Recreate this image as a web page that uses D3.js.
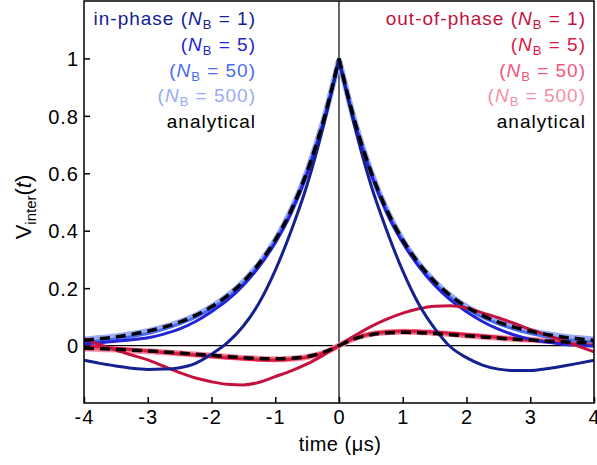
<!DOCTYPE html>
<html><head><meta charset="utf-8">
<script src="https://cdn.jsdelivr.net/npm/d3@7/dist/d3.min.js"></script>
<style>body{margin:0;background:#fff}svg{display:block}text{font-family:"Liberation Sans",Arial,sans-serif}</style>
</head><body><svg id="c" width="597" height="465"></svg>
<script>
const time = [-4,-3.75,-3.5,-3.25,-3,-2.75,-2.5,-2.25,-2,-1.75,-1.5,-1.25,-1,-0.75,-0.5,-0.25,0,0.25,0.5,0.75,1,1.25,1.5,1.75,2,2.25,2.5,2.75,3,3.25,3.5,3.75,4];

const inAnalytical = [0.018,0.024,0.030,0.039,0.050,0.064,0.082,0.105,0.135,0.174,0.223,0.287,0.368,0.472,0.607,0.779,1.000,0.779,0.607,0.472,0.368,0.287,0.223,0.174,0.135,0.105,0.082,0.064,0.050,0.039,0.030,0.024,0.018];
const in500 = [0.021,0.026,0.032,0.040,0.050,0.064,0.082,0.105,0.135,0.173,0.222,0.286,0.367,0.471,0.606,0.778,0.995,0.778,0.606,0.471,0.367,0.286,0.222,0.173,0.135,0.105,0.082,0.064,0.050,0.040,0.032,0.026,0.021];
const in50 = [0.012,0.017,0.023,0.031,0.042,0.057,0.076,0.099,0.129,0.168,0.218,0.283,0.365,0.470,0.605,0.777,0.995,0.777,0.605,0.470,0.365,0.283,0.218,0.168,0.129,0.099,0.076,0.057,0.042,0.031,0.023,0.017,0.013];
const in5 = [0.006,0.010,0.015,0.020,0.027,0.040,0.058,0.084,0.118,0.158,0.210,0.276,0.358,0.462,0.598,0.772,0.990,0.772,0.598,0.462,0.358,0.276,0.210,0.158,0.118,0.084,0.057,0.037,0.022,0.012,0.005,0.001,-0.002];
const in1 = [-0.051,-0.062,-0.071,-0.079,-0.083,-0.082,-0.077,-0.062,-0.030,0.010,0.068,0.150,0.262,0.400,0.560,0.760,1.000,0.760,0.560,0.400,0.260,0.145,0.060,-0.005,-0.042,-0.068,-0.082,-0.087,-0.087,-0.081,-0.072,-0.062,-0.051];

const outAnalytical = [-0.009,-0.011,-0.013,-0.016,-0.019,-0.022,-0.026,-0.030,-0.034,-0.038,-0.042,-0.045,-0.046,-0.044,-0.038,-0.024,0,0.024,0.038,0.044,0.046,0.045,0.042,0.038,0.034,0.030,0.026,0.022,0.019,0.016,0.013,0.011,0.009];
const out500 = [-0.010,-0.012,-0.014,-0.017,-0.020,-0.023,-0.027,-0.031,-0.035,-0.039,-0.043,-0.046,-0.048,-0.046,-0.040,-0.026,0,0.026,0.040,0.046,0.048,0.047,0.044,0.040,0.035,0.031,0.027,0.023,0.020,0.017,0.014,0.012,0.010];
const out50 = [-0.008,-0.010,-0.012,-0.015,-0.018,-0.022,-0.026,-0.030,-0.034,-0.038,-0.042,-0.045,-0.047,-0.045,-0.039,-0.025,0,0.025,0.039,0.045,0.047,0.046,0.043,0.039,0.034,0.030,0.026,0.022,0.018,0.015,0.012,0.010,0.008];
const out5 = [0.000,-0.004,-0.009,-0.014,-0.019,-0.024,-0.029,-0.034,-0.039,-0.043,-0.047,-0.050,-0.051,-0.048,-0.041,-0.026,0,0.026,0.041,0.048,0.051,0.050,0.047,0.043,0.039,0.034,0.029,0.024,0.019,0.014,0.009,0.004,0.000];
const out1 = [0.024,0.003,-0.016,-0.033,-0.050,-0.072,-0.094,-0.113,-0.126,-0.135,-0.137,-0.128,-0.108,-0.088,-0.064,-0.034,0,0.035,0.066,0.092,0.113,0.128,0.137,0.139,0.131,0.114,0.097,0.077,0.056,0.037,0.018,-0.002,-0.022];

const xTicks = [-4,-3,-2,-1,0,1,2,3,4];
const xTickLabels = ["-4","-3","-2","-1","0","1","2","3","4"];
const yTicks = [0,0.2,0.4,0.6,0.8,1];
const yTickLabels = ["0","0.2","0.4","0.6","0.8","1"];
const legendIn = [{pre:"in-phase (",n:"1",c:"#14218f"},{pre:"(",n:"5",c:"#2424d6"},{pre:"(",n:"50",c:"#4a6cf0"},{pre:"(",n:"500",c:"#9aaaf6"}];
const legendOut = [{pre:"out-of-phase (",n:"1",c:"#c4123e"},{pre:"(",n:"5",c:"#e0163f"},{pre:"(",n:"50",c:"#f0567a"},{pre:"(",n:"500",c:"#f78fa6"}];

const L=84,R=594,T=1,B=403;
const svg=d3.select("#c");
const x=d3.scaleLinear().domain([-4,4]).range([L,R]);
const y=d3.scaleLinear().domain([-0.2,1.2]).range([B,T]);

svg.append("clipPath").attr("id","clip").append("rect").attr("x",L).attr("y",T).attr("width",R-L).attr("height",B-T);
const g=svg.append("g").attr("clip-path","url(#clip)");
g.append("line").attr("x1",L).attr("x2",R).attr("y1",y(0)).attr("y2",y(0)).attr("stroke","#000").attr("stroke-width",1.2);
g.append("line").attr("x1",x(0)).attr("x2",x(0)).attr("y1",T).attr("y2",B).attr("stroke","#000").attr("stroke-width",1.2);

const line=d3.line().x(d=>x(d[0])).y(d=>y(d[1])).curve(d3.curveMonotoneX);
function draw(vals,color,w,dash){
  const pts=time.map((t,i)=>[t,vals[i]]);
  const left=pts.filter(p=>p[0]<=0), right=pts.filter(p=>p[0]>=0);
  [left,right].forEach(part=>{
    const p=g.append("path").attr("d",line(part)).attr("fill","none").attr("stroke",color).attr("stroke-width",w).attr("stroke-linecap","butt").attr("stroke-linejoin","round");
    if(dash) p.attr("stroke-dasharray",dash);
  });
}
draw(out500,legendOut[3].c,6);
draw(in500,legendIn[3].c,6);
draw(out50,legendOut[2].c,3);
draw(in50,legendIn[2].c,3);
draw(out5,legendOut[1].c,3);
draw(in5,legendIn[1].c,3);
draw(out1,legendOut[0].c,3);
draw(in1,legendIn[0].c,3);
draw(outAnalytical,"#000",3.5,"10,6");
draw(inAnalytical,"#000",3.5,"10,6");

svg.append("rect").attr("x",L).attr("y",T).attr("width",R-L).attr("height",B-T).attr("fill","none").attr("stroke","#000").attr("stroke-width",1.5);

const xa=svg.append("g").attr("transform",`translate(0,${B})`).call(d3.axisBottom(x).tickValues(xTicks).tickSize(-6).tickPadding(7).tickFormat((d,i)=>xTickLabels[i]));
const ya=svg.append("g").attr("transform",`translate(${L},0)`).call(d3.axisLeft(y).tickValues(yTicks).tickSize(-6).tickPadding(5).tickFormat((d,i)=>yTickLabels[i]));
[xa,ya].forEach(a=>{a.select(".domain").remove();a.selectAll(".tick line").attr("stroke","#000").attr("stroke-width",1.5);a.selectAll("text").attr("font-size",20).attr("letter-spacing",1).attr("fill","#000").attr("font-family","Liberation Sans, Arial, sans-serif");});
xa.selectAll("text").attr("dy","0.71em");
ya.selectAll("text").attr("dy","0.36em");

svg.append("text").attr("x",340).attr("y",451).attr("text-anchor","middle").attr("font-size",20).attr("letter-spacing",0.5).text("time (μs)");
const yl=svg.append("text").attr("transform","translate(31,207) rotate(-90)").attr("text-anchor","middle").attr("font-size",22);
yl.append("tspan").text("V");
yl.append("tspan").attr("font-size",15).attr("dy",5).text("inter");
yl.append("tspan").attr("dy",-5).text("(");
yl.append("tspan").attr("font-style","italic").text("t");
yl.append("tspan").text(")");

function legend(items,xr){
  const base=[25,51,76.5,102];
  items.forEach((it,i)=>{
    const t=svg.append("text").attr("x",xr).attr("y",base[i]).attr("text-anchor","end").attr("font-size",19).attr("letter-spacing",1).attr("fill",it.c);
    t.append("tspan").text(it.pre);
    t.append("tspan").attr("font-style","italic").text("N");
    t.append("tspan").attr("font-size",13).attr("dy",4).text("B");
    t.append("tspan").attr("dy",-4).text(" = "+it.n+")");
  });
  svg.append("text").attr("x",xr).attr("y",128).attr("text-anchor","end").attr("font-size",19).attr("letter-spacing",1).attr("fill","#000").text("analytical");
}
legend(legendIn,256);
legend(legendOut,586);
</script></body></html>
